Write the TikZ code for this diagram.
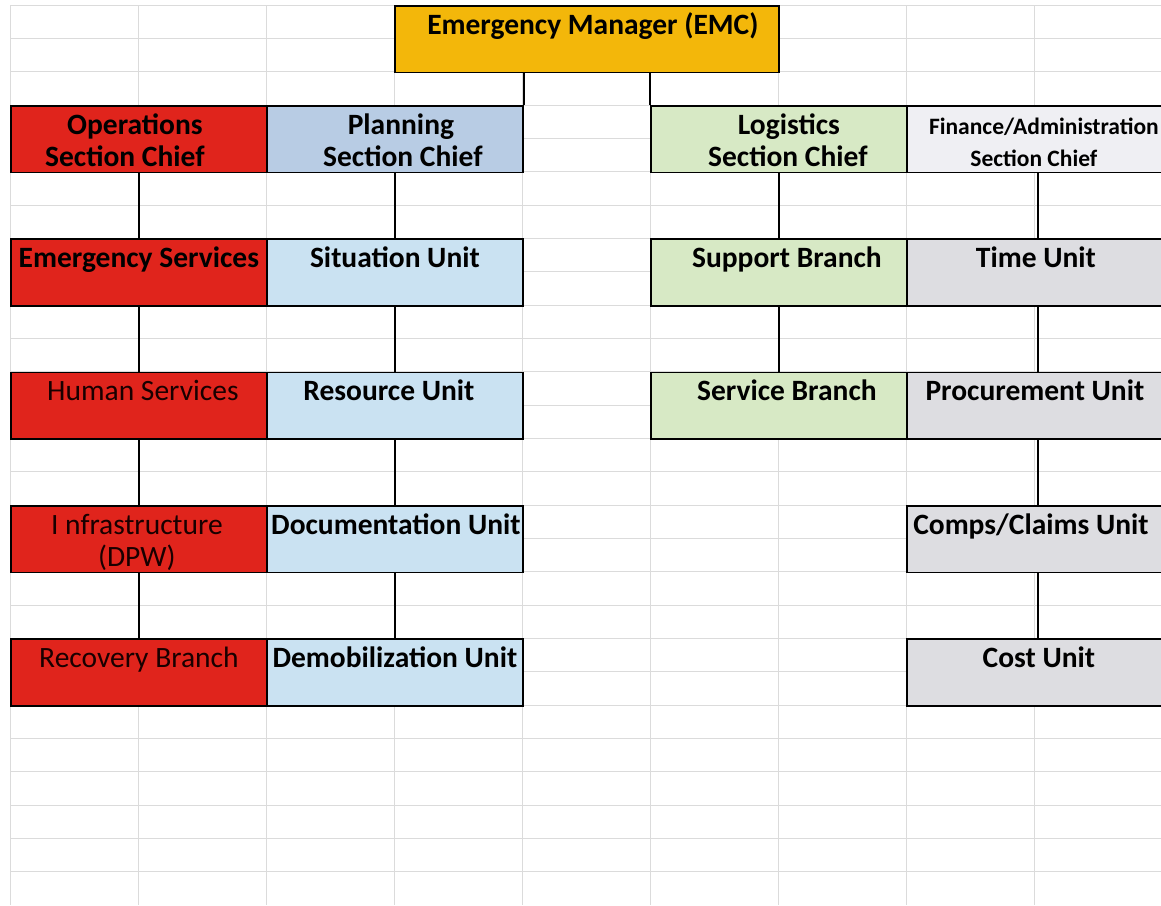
\documentclass[tikz,border=0pt]{standalone}
\usepackage{fontspec}
\setmainfont{Carlito}
\definecolor{emcgold}{RGB}{243,183,10}
\definecolor{opsred}{RGB}{224,36,28}
\definecolor{planhead}{RGB}{184,204,228}
\definecolor{planunit}{RGB}{202,226,242}
\definecolor{loggreen}{RGB}{215,233,197}
\definecolor{finhead}{RGB}{239,239,243}
\definecolor{finunit}{RGB}{221,221,225}
\begin{document}
\begin{tikzpicture}[x=1pt,y=-1pt,
  cell/.style={draw=black, line width=1.8pt, inner sep=0pt, anchor=north west,
    minimum width=256pt, minimum height=66.67pt},
  wide/.style={minimum width=#1},
  lbl/.style={anchor=base, inner sep=0pt, font=\fontsize{29.5}{32}\selectfont\bfseries},
  lblreg/.style={anchor=base, inner sep=0pt, text=black!90!red, font=\fontsize{29.5}{32}\selectfont},
  lblsmall/.style={anchor=base, inner sep=0pt, font=\fontsize{23.5}{26}\selectfont\bfseries},
  link/.style={draw=black, line width=1.8pt},
  gridline/.style={draw=black!14, line width=0.7pt}]
\useasboundingbox (0,0) rectangle (1161,905);
\fill[white] (0,0) rectangle (1161,905);

% worksheet grid
\foreach \k in {0,...,26} \draw[gridline] (10,{5+33.333*\k}) -- (1161,{5+33.333*\k});
\foreach \k in {0,...,8} \draw[gridline] ({10+128*\k},5) -- ({10+128*\k},905);

% top
\node[cell, wide=384pt, fill=emcgold] (emc) at (394,5) {};

% section chiefs
\node[cell, fill=opsred]   (ops)  at (10,105) {};
\node[cell, fill=planhead] (plan) at (266,105) {};
\node[cell, fill=loggreen] (log)  at (650,105) {};
\node[cell, wide=262pt, fill=finhead] (fin) at (906,105) {};

% units and branches
\node[cell, fill=opsred]   (es)    at (10,238.33) {};
\node[cell, fill=planunit] (sit)   at (266,238.33) {};
\node[cell, fill=loggreen] (sup)   at (650,238.33) {};
\node[cell, wide=262pt, fill=finunit] (time) at (906,238.33) {};

\node[cell, fill=opsred]   (hum)   at (10,371.67) {};
\node[cell, fill=planunit] (res)   at (266,371.67) {};
\node[cell, fill=loggreen] (serv)  at (650,371.67) {};
\node[cell, wide=262pt, fill=finunit] (proc) at (906,371.67) {};

\node[cell, fill=opsred]   (inf)   at (10,505) {};
\node[cell, fill=planunit] (doc)   at (266,505) {};
\node[cell, wide=262pt, fill=finunit] (comp) at (906,505) {};

\node[cell, fill=opsred]   (rec)   at (10,638.33) {};
\node[cell, fill=planunit] (demob) at (266,638.33) {};
\node[cell, wide=262pt, fill=finunit] (cost) at (906,638.33) {};

% reporting lines
\draw[link] (emc.south -| plan.north east) -- (plan.north east);
\draw[link] (emc.south -| log.north west) -- (log.north west);
\draw[link] (ops.south) -- (es.north);
\draw[link] (es.south) -- (hum.north);
\draw[link] (hum.south) -- (inf.north);
\draw[link] (inf.south) -- (rec.north);
\draw[link] (plan.south) -- (sit.north);
\draw[link] (sit.south) -- (res.north);
\draw[link] (res.south) -- (doc.north);
\draw[link] (doc.south) -- (demob.north);
\draw[link] (log.south) -- (sup.north);
\draw[link] (sup.south) -- (serv.north);
\draw[link] (fin.south) -- (time.north);
\draw[link] (time.south) -- (proc.north);
\draw[link] (proc.south) -- (comp.north);
\draw[link] (comp.south) -- (cost.north);

% labels
\node[lbl] (emcT) at ([yshift=-29pt,xshift=6pt]emc.north) {Emergency Manager (EMC)};

\node[lbl] (opsA) at ([yshift=-29pt,xshift=-4pt]ops.north) {Operations};
\node[lbl] (opsB) at ([yshift=-61pt,xshift=-14pt]ops.north) {Section Chief};
\node[lbl] (planA) at ([yshift=-29pt,xshift=6pt]plan.north) {Planning};
\node[lbl] (planB) at ([yshift=-61pt,xshift=8pt]plan.north) {Section Chief};
\node[lbl] (logA) at ([yshift=-29pt,xshift=10pt]log.north) {Logistics};
\node[lbl] (logB) at ([yshift=-61pt,xshift=9pt]log.north) {Section Chief};
\node[lblsmall] (finA) at ([yshift=-29pt,xshift=6pt]fin.north) {Finance/Administration};
\node[lblsmall] (finB) at ([yshift=-61pt,xshift=-4pt]fin.north) {Section Chief};

\node[lbl] (esT) at ([yshift=-29pt]es.north) {Emergency Services};
\node[lbl] (sitT) at ([yshift=-29pt]sit.north) {Situation Unit};
\node[lbl] (supT) at ([yshift=-29pt,xshift=8pt]sup.north) {Support Branch};
\node[lbl] (timeT) at ([yshift=-29pt,xshift=-2pt]time.north) {Time Unit};

\node[lblreg] (humT) at ([yshift=-29pt,xshift=4pt]hum.north) {Human Services};
\node[lbl] (resT) at ([yshift=-29pt,xshift=-6pt]res.north) {Resource Unit};
\node[lbl] (servT) at ([yshift=-29pt,xshift=8pt]serv.north) {Service Branch};
\node[lbl] (procT) at ([yshift=-29pt,xshift=-3pt]proc.north) {Procurement Unit};

\node[lblreg] (infA) at ([yshift=-29pt,xshift=-2pt]inf.north) {I nfrastructure};
\node[lblreg] (infB) at ([yshift=-61pt,xshift=-2pt]inf.north) {(DPW)};
\node[lbl] (docT) at ([yshift=-29pt,xshift=1pt]doc.north) {Documentation Unit};
\node[lbl] (compT) at ([yshift=-29pt,xshift=-7pt]comp.north) {Comps/Claims Unit};

\node[lblreg] (recT) at ([yshift=-29pt]rec.north) {Recovery Branch};
\node[lbl] (demobT) at ([yshift=-29pt]demob.north) {Demobilization Unit};
\node[lbl] (costT) at ([yshift=-29pt,xshift=1pt]cost.north) {Cost Unit};
\end{tikzpicture}
\end{document}
